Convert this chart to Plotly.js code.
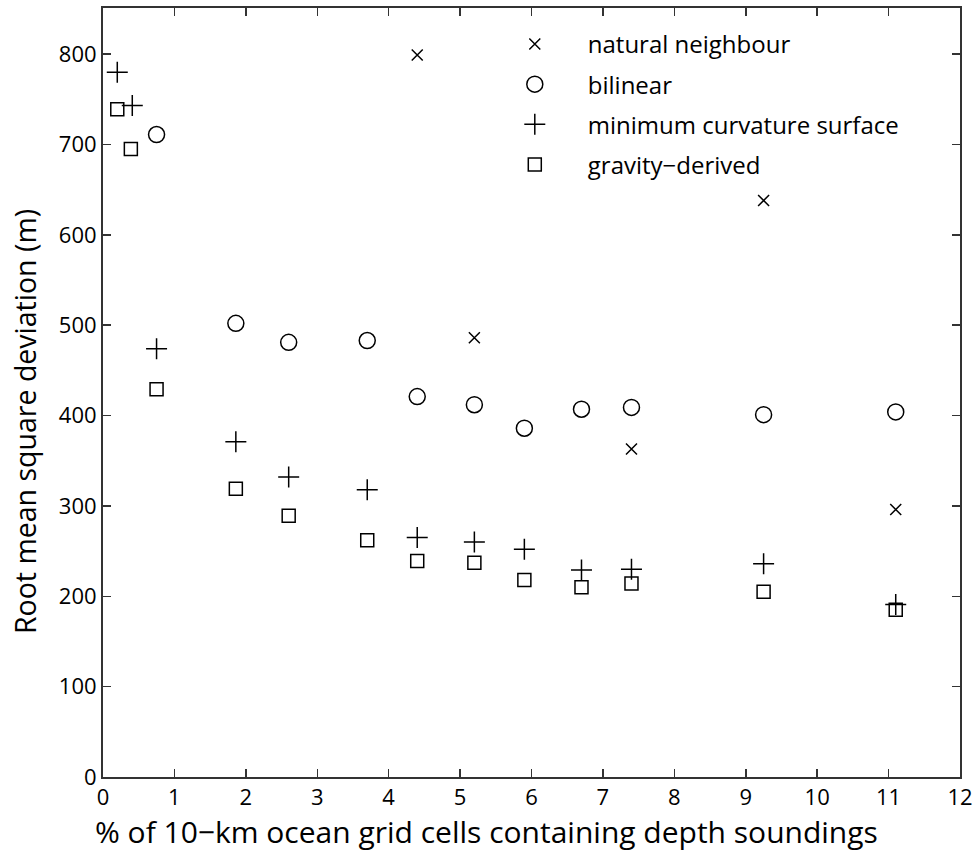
<!DOCTYPE html>
<html><head><meta charset="utf-8">
<script src="https://cdn.plot.ly/plotly-3.0.1.min.js"></script>
<style>html,body{margin:0;padding:0;background:#fff}#chart{width:974px;height:852px}</style>
</head><body><div id="chart"></div>
<script>
const seriesNames = ["natural neighbour", "bilinear", "minimum curvature surface", "gravity\u2212derived"];
const nnX = [4.4, 5.2, 7.4, 9.25, 11.1];
const nnY = [799, 486, 363, 638, 296];
const biX = [0.75, 1.86, 2.6, 3.7, 4.4, 5.2, 5.9, 6.7, 7.4, 9.25, 11.1];
const biY = [711, 502, 481, 483, 421, 412, 386, 407, 409, 401, 404];
const mcX = [0.2, 0.41, 0.75, 1.86, 2.6, 3.7, 4.4, 5.2, 5.9, 6.7, 7.4, 9.25, 11.1];
const mcY = [780, 743, 474, 371, 332, 318, 265, 260, 252, 229, 230, 236, 191];
const gdX = [0.2, 0.39, 0.75, 1.86, 2.6, 3.7, 4.4, 5.2, 5.9, 6.7, 7.4, 9.25, 11.1];
const gdY = [739, 695, 429, 319, 289, 262, 239, 237, 218, 210, 214, 205, 185];
const xTicks = [0,1,2,3,4,5,6,7,8,9,10,11,12];
const yTicks = [0,100,200,300,400,500,600,700,800];
const xTitle = '% of 10\u2212km ocean grid cells containing depth soundings';
const yTitle = 'Root mean square deviation (m)';

const FONT = "Open Sans, sans-serif";
function tr(name, x, y, symbol, size, g){
  return {type:'scatter', mode:'markers', name:name, x:x, y:y, legendgroup:g,
    marker:{symbol:symbol, size:size, color:'#000', line:{color:'#000', width:1.5}},
    hoverinfo:'x+y'};
}
const data = [
  tr(seriesNames[0], nnX, nnY, 'x-thin-open', 11, 'a'),
  tr(seriesNames[1], biX, biY, 'circle-open', 16, 'b'),
  tr(seriesNames[2], mcX, mcY, 'cross-thin-open', 15, 'c'),
  tr(seriesNames[3], gdX, gdY, 'square-open', 13, 'd')
];
const axisCommon = {showgrid:false, zeroline:false, showline:true, linecolor:'#333', linewidth:2,
  mirror:'allticks', ticks:'inside', ticklen:8, tickwidth:1.5, tickcolor:'#333',
  tickfont:{family:FONT, size:22, color:'#000'}};
const layout = {
  width:974, height:852, paper_bgcolor:'#fff', plot_bgcolor:'#fff',
  margin:{l:103, r:14, t:8, b:75},
  font:{family:FONT, color:'#000'},
  xaxis:Object.assign({}, axisCommon, {range:[0,12], tickvals:xTicks, ticktext:xTicks.map(String)}),
  yaxis:Object.assign({}, axisCommon, {range:[0,851], tickvals:yTicks, ticktext:yTicks.map(String)}),
  annotations:[
    {text:xTitle, xref:'paper', yref:'paper', x:0.447, y:-0.0715, xanchor:'center', yanchor:'middle',
     showarrow:false, font:{family:FONT, size:30, color:'#000'}},
    {text:yTitle, xref:'paper', yref:'paper', x:-0.091, y:0.4616, xanchor:'center', yanchor:'middle',
     textangle:-90, showarrow:false, font:{family:FONT, size:28.5, color:'#000'}}
  ],
  showlegend:true,
  legend:{x:0.442, y:0.982, xanchor:'left', yanchor:'top', bgcolor:'rgba(0,0,0,0)', borderwidth:0,
    font:{family:FONT, size:24, color:'#000'}, tracegroupgap:6, itemwidth:96}
};
Plotly.newPlot('chart', data, layout, {displayModeBar:false, staticPlot:true});
</script></body></html>
